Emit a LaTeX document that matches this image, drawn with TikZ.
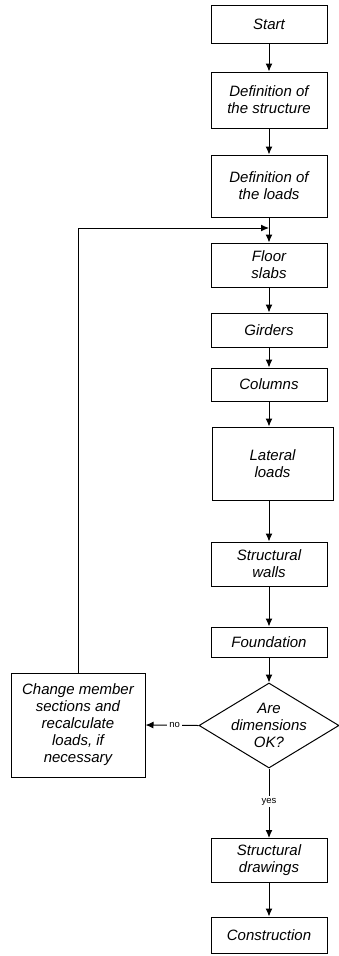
\documentclass[tikz,border=0pt]{standalone}
\usepackage{fontspec}
\setmainfont{Liberation Sans}
\usetikzlibrary{shapes.geometric,arrows.meta}
\tikzset{>={Latex[length=8pt,width=7pt]}}
\tikzset{
  box/.style = {draw, line width=1pt, inner sep=0pt, minimum width=116pt,
    align=center, font=\fontsize{15}{17}\selectfont\itshape},
  decision/.style = {draw, line width=1pt, diamond, inner sep=0pt,
    minimum width=140pt, minimum height=85pt},
  answer/.style = {fill=white, inner sep=2pt, font=\fontsize{9.5}{11}\selectfont}
}

\begin{document}
\begin{tikzpicture}[x=1pt,y=-1pt]
  \useasboundingbox (0,0) rectangle (338,956);
  \node[box, minimum height=38pt] (start) at (269,24) {Start};
  \node[box, minimum height=56pt] (structure) at (269,100) {Definition of\\the structure};
  \node[box, minimum height=62pt] (loads) at (269,186) {Definition of\\the loads};
  \node[box, minimum height=44pt] (slabs) at (269,265) {Floor\\slabs};
  \node[box, minimum height=34pt] (girders) at (269,330) {Girders};
  \node[box, minimum height=33pt] (columns) at (269,384.5) {Columns};
  \node[box, minimum width=121pt, minimum height=73pt] (lateral) at (272.5,463.5) {Lateral\\loads};
  \node[box, minimum height=44pt] (walls) at (269,564) {Structural\\walls};
  \node[box, minimum height=30pt] (foundation) at (269,642) {Foundation};
  \node[decision, label={[align=center, font=\fontsize{15}{17}\selectfont\itshape]center:Are\\dimensions\\OK?}] (check) at (269,725.5) {};
  \node[box, minimum width=134pt, minimum height=104pt] (change) at (78,725) {Change member\\sections and\\recalculate\\loads, if\\necessary};
  \node[box, minimum height=44pt] (drawings) at (269,860.5) {Structural\\drawings};
  \node[box, minimum height=36pt] (construction) at (269,935) {Construction};
  \coordinate (merge) at (269,228);
  % arrows
  \draw[->, line width=1pt] (start) -- (structure);
  \draw[->, line width=1pt] (structure) -- (loads);
  \draw[->, line width=1pt] (loads) -- (slabs);
  \draw[->, line width=1pt] (slabs) -- (girders);
  \draw[->, line width=1pt] (girders) -- (columns);
  \draw[->, line width=1pt] (columns.south) -- (columns.south |- lateral.north);
  \draw[->, line width=1pt] (columns.south |- lateral.south) -- (walls);
  \draw[->, line width=1pt] (walls) -- (foundation);
  \draw[->, line width=1pt] (foundation) -- (check);
  \draw[->, line width=1pt] (check.west) -- node[answer, pos=0.45] {no} (change.east);
  \draw[->, line width=1pt] (check.south) -- node[answer, pos=0.48] {yes} (drawings.north);
  \draw[->, line width=1pt] (drawings) -- (construction);
  \draw[->, line width=1pt] (change.north) |- (merge);
\end{tikzpicture}
\end{document}
